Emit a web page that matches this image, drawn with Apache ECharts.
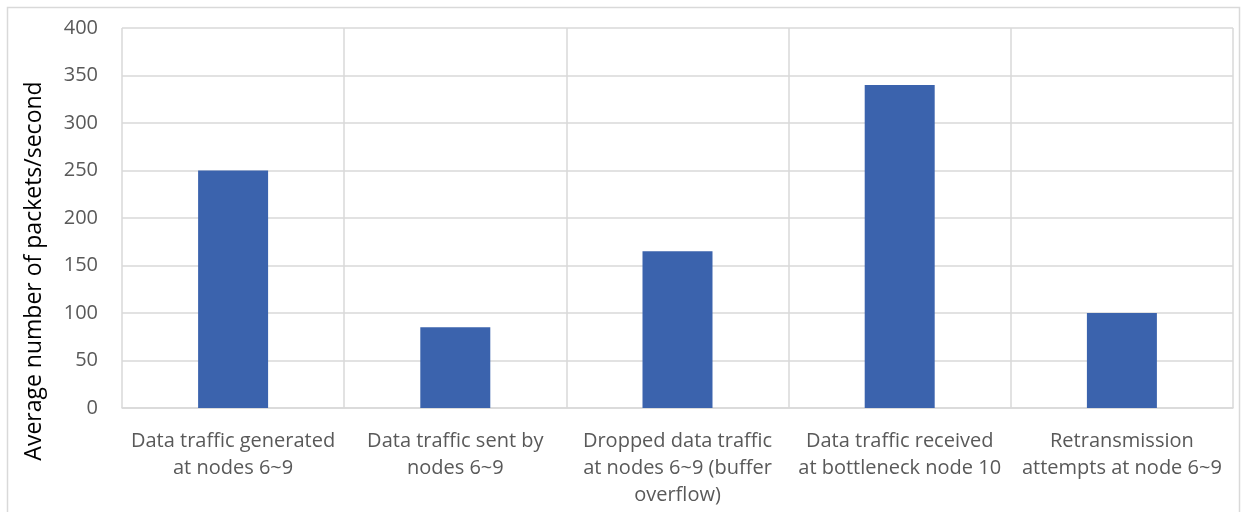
<!DOCTYPE html>
<html>
<head>
<meta charset="utf-8">
<script src="https://cdn.jsdelivr.net/npm/echarts@6/dist/echarts.min.js"></script>
<style>
  html, body { margin: 0; padding: 0; background: #fff; }
  #main { width: 1241px; height: 512px; }
</style>
</head>
<body>
<div id="main"></div>
<script>
  var categories = [
    'Data traffic generated\nat nodes 6~9',
    'Data traffic sent by\nnodes 6~9',
    'Dropped data traffic\nat nodes 6~9 (buffer\noverflow)',
    'Data traffic received\nat bottleneck node 10',
    'Retransmission\nattempts at node 6~9'
  ];
  var values = [250, 85, 165, 340, 100];
  var yTicks = [0, 400, 50]; // min, max, step

  var chart = echarts.init(document.getElementById('main'));
  var font = '"Open Sans", "Noto Sans", sans-serif';

  var option = {
    animation: false,
    grid: { left: 122, right: 8, top: 28, bottom: 104 },
    graphic: [{
      type: 'rect',
      shape: { x: 7.5, y: 7.5, width: 1232, height: 520 },
      style: { fill: 'none', stroke: '#d9d9d9', lineWidth: 1.5 },
      silent: true
    }],
    xAxis: {
      type: 'category',
      data: categories,
      axisLine: { lineStyle: { color: '#d9d9d9', width: 1.5 } },
      axisTick: { show: false },
      splitLine: { show: true, lineStyle: { color: '#d9d9d9', width: 1.5 } },
      axisLabel: {
        interval: 0,
        color: '#595959',
        fontFamily: font,
        fontSize: 20,
        lineHeight: 27,
        margin: 20
      }
    },
    yAxis: {
      type: 'value',
      min: yTicks[0],
      max: yTicks[1],
      interval: yTicks[2],
      name: 'Average number of packets/second',
      nameLocation: 'middle',
      nameGap: 76,
      nameTextStyle: { color: '#000', fontFamily: font, fontSize: 23, padding: [0, 106, 0, 0] },
      axisLine: { show: false },
      axisTick: { show: false },
      splitLine: { lineStyle: { color: '#d9d9d9', width: 1.5 } },
      axisLabel: { color: '#595959', fontFamily: font, fontSize: 20, margin: 24 }
    },
    series: [{
      type: 'bar',
      data: values,
      barWidth: '31.5%',
      itemStyle: { color: '#3b63ad' }
    }]
  };
  chart.setOption(option);
</script>
</body>
</html>
